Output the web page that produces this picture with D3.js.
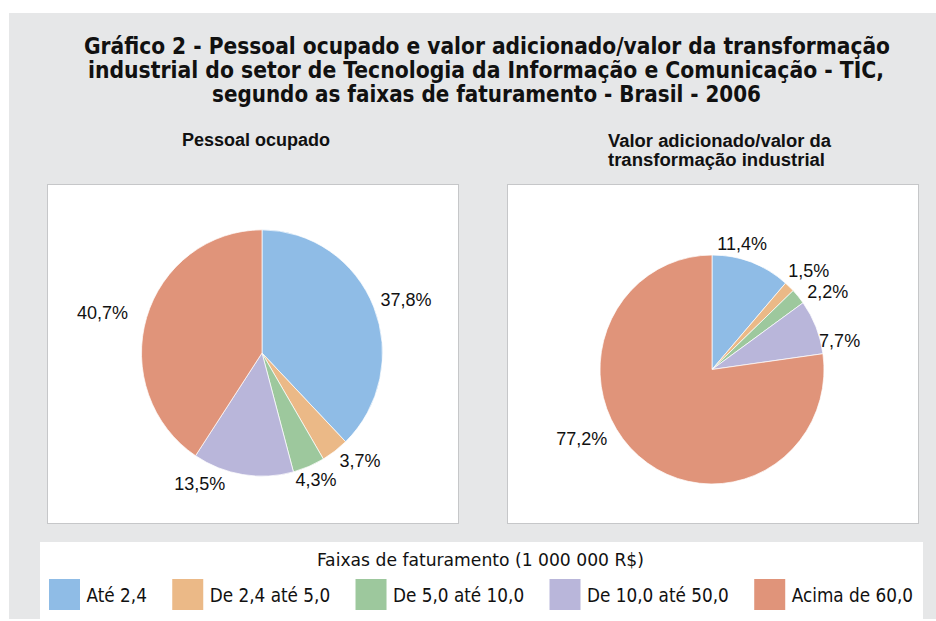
<!DOCTYPE html>
<html>
<head>
<meta charset="utf-8">
<script src="https://cdn.jsdelivr.net/npm/d3@7"></script>
<style>
	body { margin: 0; background: #fff; }
	svg { display: block; }
</style>
</head>
<body>
<div id="chart"></div>
<script>
var faixas = ["Até 2,4", "De 2,4 até 5,0", "De 5,0 até 10,0", "De 10,0 até 50,0", "Acima de 60,0"]
var pessoalOcupado = [37.8, 3.7, 4.3, 13.5, 40.7]
var valorAdicionado = [11.4, 1.5, 2.2, 7.7, 77.2]
var cores = ["#8fbce6", "#ebb987", "#9dc89d", "#b9b6da", "#e0947a"]
var tituloLinhas = [
	"Gráfico 2 - Pessoal ocupado e valor adicionado/valor da transformação",
	"industrial do setor de Tecnologia da Informação e Comunicação - TIC,",
	"segundo as faixas de faturamento - Brasil - 2006"
]
var legendaTitulo = "Faixas de faturamento (1 000 000 R$)"

var narrow = '"Liberation Sans Narrow", "Arial Narrow", "DejaVu Sans Condensed", sans-serif'
var sans = '"Liberation Sans", Arial, Helvetica, sans-serif'
var br = d3.formatLocale({decimal: ",", thousands: " ", grouping: [3], currency: ["R$", ""]})
var fmt = (v) => br.format(".1f")(v) + "%"
var stretch = 1.022	// reference pies are slightly taller than wide

var svg = d3.select("#chart")
	.append("svg")
		.attr("width", 936)
		.attr("height", 621)

svg.append("rect")
	.attr("x", 9).attr("y", 13)
	.attr("width", 927).attr("height", 606)
	.attr("fill", "#e6e7e8")

// main title, three centred lines
var titleFits = [[487, 54, 806], [486, 78, 796], [486.5, 102, 549]]
svg.selectAll("text.title")
	.data(tituloLinhas)
	.enter()
	.append("text")
		.attr("class", "title")
		.attr("x", (d, i) => titleFits[i][0])
		.attr("y", (d, i) => titleFits[i][1])
		.attr("text-anchor", "middle")
		.attr("textLength", (d, i) => titleFits[i][2])
		.attr("lengthAdjust", "spacingAndGlyphs")
		.style("font-family", narrow)
		.style("font-weight", "bold")
		.style("font-size", "23px")
		.style("fill", "#111")
		.text((d) => d)

function draw_pie(cfg) {
	svg.append("rect")
		.attr("x", cfg.box[0] + 0.5).attr("y", cfg.box[1] + 0.5)
		.attr("width", cfg.box[2]).attr("height", cfg.box[3])
		.attr("fill", "#fff")
		.attr("stroke", "#c6c7c9")
		.attr("stroke-width", 1)

	svg.selectAll("text.ptitle-" + cfg.id)
		.data(cfg.title)
		.enter()
		.append("text")
			.attr("class", "ptitle-" + cfg.id)
			.attr("x", (d, i) => cfg.titlePos[i][0])
			.attr("y", (d, i) => cfg.titlePos[i][1])
			.attr("text-anchor", "middle")
			.attr("textLength", (d, i) => cfg.titlePos[i][2])
			.attr("lengthAdjust", "spacingAndGlyphs")
			.style("font-family", sans)
			.style("font-weight", "bold")
			.style("font-size", "18px")
			.style("fill", "#111")
			.text((d) => d)

	var g = svg.append("g")
		.attr("transform", "translate(" + cfg.cx + ", " + cfg.cy + ")")
	var arcs = d3.pie().sort(null).value((d) => d)(cfg.values)
	var arc = d3.arc().innerRadius(0).outerRadius(cfg.r)
	g.append("g")
		.attr("transform", "scale(1, " + stretch + ")")
		.selectAll("path")
		.data(arcs)
		.enter()
		.append("path")
			.attr("d", arc)
			.attr("fill", (d, i) => cores[i])
			.attr("stroke", "#fff")
			.attr("stroke-width", 0.7)

	g.selectAll("text.lbl")
		.data(arcs)
		.enter()
		.append("text")
			.attr("class", "lbl")
			.attr("text-anchor", "middle")
			.attr("dy", "0.35em")
			.style("font-family", sans)
			.style("font-size", "18px")
			.style("fill", "#111")
			.text((d) => fmt(d.data))
			.each(function (d, i) {
				var w = this.getComputedTextLength(), h = 14
				var a = (d.startAngle + d.endAngle) / 2
				var sx = Math.sin(a), sy = -Math.cos(a)
				var R = cfg.r + 6
				d3.select(this)
					.attr("x", R * sx + w / 2 * sx + cfg.nudge[i][0])
					.attr("y", R * sy + h / 2 * sy + cfg.nudge[i][1])
			})
}

draw_pie({
	id: "a", values: pessoalOcupado,
	box: [47, 184, 411, 339],
	title: ["Pessoal ocupado"], titlePos: [[256, 146, 148]],
	cx: 262, cy: 353, r: 120.5,
	nudge: [[3, -3], [9, 1], [-3, 4], [-38, -1], [-14, -2]]
})
draw_pie({
	id: "b", values: valorAdicionado,
	box: [507, 184, 411, 339],
	title: ["Valor adicionado/valor da", "transformação industrial"],
	titlePos: [[719.5, 147, 223], [716.5, 166, 217]],
	cx: 712, cy: 369.5, r: 112,
	nudge: [[-20, -9], [1, -9], [9, 2], [-1, 18], [-36, -25]]
})

// legend
svg.append("rect")
	.attr("x", 40).attr("y", 542)
	.attr("width", 883).attr("height", 77)
	.attr("fill", "#fff")

svg.append("text")
	.attr("x", 480.5).attr("y", 566)
	.attr("text-anchor", "middle")
	.attr("textLength", 327)
	.attr("lengthAdjust", "spacingAndGlyphs")
	.style("font-family", narrow)
	.style("font-size", "18px")
	.style("fill", "#111")
	.text(legendaTitulo)

var sw = 31, swGap = 6.5, legLeft = 49, legRight = 913
var items = svg.selectAll("g.leg")
	.data(faixas)
	.enter()
	.append("g")
		.attr("class", "leg")
items.append("rect")
	.attr("width", sw).attr("height", sw)
	.attr("y", 579)
	.attr("fill", (d, i) => cores[i])
var labels = items.append("text")
	.attr("y", 602)
	.style("font-family", narrow)
	.style("font-size", "20px")
	.style("fill", "#111")
	.text((d) => d)
var natural = labels.nodes().map((n) => n.getComputedTextLength())
var k = 575 / d3.sum(natural)
var widths = natural.map((w) => w * k)
var gap = (legRight - legLeft - d3.sum(widths) - faixas.length * (sw + swGap)) / (faixas.length - 1)
var xs = []
var cur = legLeft
widths.forEach((w) => { xs.push(cur); cur += sw + swGap + w + gap })
items.attr("transform", (d, i) => "translate(" + xs[i] + ", 0)")
labels
	.attr("x", sw + swGap)
	.attr("textLength", (d, i) => widths[i])
	.attr("lengthAdjust", "spacingAndGlyphs")
</script>
</body>
</html>
